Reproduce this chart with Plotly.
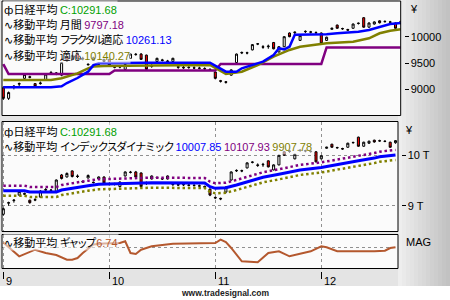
import plotly.graph_objects as go

W, H = 450, 300
def px(x): return x / W
def py(y): return 1 - y / H

# ---------------- data (bar index: 0 = Aug 31, 1 = Sep 1 ... 75 = last bar) ----------------
bar_idx = list(range(76))
opens = [9030, 8830, 9050, 9100, 9210, 9240, 9110, 9110, 9170, 9310,
         9300, 9270, 9610, 9570, 9690, 9590, 9480, 9550, 9465, 9530,
         9570, 9440, 9430, 9380, 9590, 9660, 9670, 9650, 9450, 9530,
         9560, 9540, 9530, 9430, 9420, 9420, 9410, 9405, 9395, 9380,
         9330, 9165, 9145, 9270, 9510, 9690, 9695, 9750, 9860, 9810,
         9810, 9890, 9710, 9810, 10070, 10075, 9930, 10095, 10085, 10080,
         10070, 9930, 10140, 10220, 10155, 10135, 10160, 10250, 10360, 10180,
         10240, 10300, 10290, 10280, 10260, 10250]
highs = [9060, 8960, 9080, 9130, 9300, 9260, 9120, 9150, 9310, 9350,
         9330, 9520, 9630, 9660, 9700, 9620, 9500, 9620, 9480, 9580,
         9580, 9460, 9455, 9480, 9680, 9690, 9690, 9660, 9480, 9600,
         9580, 9560, 9600, 9450, 9450, 9440, 9440, 9430, 9420, 9400,
         9340, 9180, 9160, 9380, 9680, 9720, 9715, 9860, 9880, 9840,
         9850, 9900, 9820, 10010, 10080, 10100, 10030, 10120, 10110, 10100,
         10080, 10000, 10170, 10230, 10170, 10150, 10250, 10270, 10370, 10270,
         10290, 10310, 10310, 10300, 10270, 10300]
lows = [8800, 8800, 9000, 9060, 9200, 9210, 9040, 9090, 9160, 9290,
        9270, 9250, 9520, 9560, 9560, 9550, 9450, 9540, 9440, 9520,
        9440, 9400, 9400, 9360, 9580, 9640, 9560, 9360, 9410, 9520,
        9530, 9510, 9520, 9390, 9390, 9390, 9385, 9380, 9370, 9350,
        9190, 9130, 9110, 9260, 9500, 9670, 9665, 9740, 9840, 9770,
        9770, 9760, 9700, 9800, 9990, 10050, 9920, 10070, 10060, 10050,
        9860, 9920, 10130, 10150, 10130, 10110, 10150, 10230, 10170, 10170,
        10230, 10250, 10270, 10260, 10150, 10230]
closes = [8830, 8940, 9060, 9110, 9280, 9230, 9060, 9120, 9290, 9320,
          9310, 9510, 9540, 9640, 9580, 9580, 9470, 9600, 9460, 9570,
          9450, 9420, 9425, 9470, 9670, 9665, 9570, 9380, 9440, 9590,
          9550, 9530, 9590, 9420, 9410, 9415, 9405, 9400, 9390, 9370,
          9210, 9155, 9135, 9370, 9670, 9700, 9690, 9850, 9865, 9800,
          9820, 9770, 9810, 10000, 10000, 10085, 10020, 10100, 10090, 10075,
          9870, 9990, 10160, 10160, 10150, 10125, 10240, 10255, 10180, 10260,
          10280, 10265, 10285, 10275, 10160, 10291.68]

# top panel moving averages
ma_month_x = [0, 1, 20, 21, 40, 41, 60, 61, 75]
ma_month_y = [9480, 9290, 9290, 9360, 9360, 9482, 9482, 9797.18, 9797.18]
ma_fractal_x = [0, 9, 11, 12, 14, 16, 17, 18, 27, 39, 42, 44, 45, 48, 49, 51, 52, 53, 54, 55, 61, 63, 67, 69, 71, 73, 75]
ma_fractal_y = [9040, 9040, 9060, 9121, 9216, 9336, 9460, 9495, 9507, 9507, 9336, 9336, 9400, 9495, 9526,
                9653, 9780, 9760, 9810, 10035, 10046, 10065, 10095, 10127, 10190, 10241, 10261.13]
ma_adapt_x = [0, 9, 11, 14, 16, 17, 19, 26, 28, 39, 40, 42, 45, 48, 51, 54, 56, 61, 66, 69, 71, 73, 75]
ma_adapt_y = [9178, 9178, 9211, 9305, 9400, 9435, 9444, 9444, 9453, 9463, 9406, 9292, 9336, 9463, 9620,
              9748, 9810, 9875, 9905, 9970, 10065, 10114, 10140.27]

# middle panel: index dynamic MA with bands
dyn_x = [1, 5, 6, 11, 12, 13, 15, 17, 19, 25, 29, 39, 40, 41, 43, 45, 48, 50, 53, 55, 57, 61, 65, 67, 68, 71, 72, 75]
dyn_mid = [9298, 9298, 9272, 9272, 9311, 9331, 9365, 9397, 9425, 9444, 9456, 9450, 9377, 9345, 9357, 9411,
           9496, 9563, 9623, 9670, 9710, 9760, 9840, 9881, 9890, 9945, 9972, 10007.85]
dyn_up = [9398, 9398, 9372, 9372, 9411, 9431, 9465, 9497, 9525, 9544, 9556, 9550, 9477, 9445, 9457, 9511,
          9596, 9663, 9723, 9770, 9810, 9860, 9940, 9981, 9990, 10045, 10072, 10107.93]
dyn_low = [9198, 9198, 9172, 9172, 9211, 9231, 9265, 9297, 9325, 9344, 9356, 9350, 9277, 9245, 9257, 9311,
           9396, 9463, 9523, 9570, 9610, 9660, 9740, 9781, 9790, 9845, 9872, 9907.78]

# bottom panel: MA gap
gap_x = [1, 4, 7, 9, 11, 13, 14, 15, 16, 18, 20, 23, 24, 25, 26, 27, 29, 31, 33, 41, 42, 43, 44, 46, 49,
         51, 53, 55, 57, 59, 61, 62, 64, 66, 68, 71, 73, 74, 75]
gap_y = [100, -176, -44, -110, -150, -244, -244, -210, -110, 60, 80, 90, 124, -110, -130, -44, 24, 56, 76,
         90, 156, 110, -10, -276, -296, -110, -76, -176, -130, -76, 24, 4, -76, -76, -90, -76, -64, -10, 6.74]

month_ticks = [1, 21, 41, 61]
month_labels = ["9", "10", "11", "12"]

# ---------------- figure ----------------
fig = go.Figure()

cs_style = dict(
    increasing=dict(line=dict(color="black", width=1), fillcolor="white"),
    decreasing=dict(line=dict(color="black", width=1), fillcolor="#ff0000"),
    whiskerwidth=0, showlegend=False, hoverinfo="skip",
)
fig.add_trace(go.Candlestick(x=bar_idx, open=opens, high=highs, low=lows, close=closes,
                             xaxis="x", yaxis="y", **cs_style))
fig.add_trace(go.Scatter(x=ma_month_x, y=ma_month_y, mode="lines", line=dict(color="#800080", width=2.5),
                         xaxis="x", yaxis="y", showlegend=False))
fig.add_trace(go.Scatter(x=ma_adapt_x, y=ma_adapt_y, mode="lines", line=dict(color="#808000", width=2.5),
                         xaxis="x", yaxis="y", showlegend=False))
fig.add_trace(go.Scatter(x=ma_fractal_x, y=ma_fractal_y, mode="lines", line=dict(color="#0000ff", width=2.5),
                         xaxis="x", yaxis="y", showlegend=False))

fig.add_trace(go.Candlestick(x=bar_idx, open=opens, high=highs, low=lows, close=closes,
                             xaxis="x2", yaxis="y2", **cs_style))
fig.add_trace(go.Scatter(x=dyn_x, y=dyn_up, mode="lines", line=dict(color="#800080", width=2.5, dash="2.5px,2.8px"),
                         xaxis="x2", yaxis="y2", showlegend=False))
fig.add_trace(go.Scatter(x=dyn_x, y=dyn_low, mode="lines", line=dict(color="#808000", width=2.5, dash="2.5px,2.8px"),
                         xaxis="x2", yaxis="y2", showlegend=False))
fig.add_trace(go.Scatter(x=dyn_x, y=dyn_mid, mode="lines", line=dict(color="#0000ff", width=3),
                         xaxis="x2", yaxis="y2", showlegend=False))

fig.add_trace(go.Scatter(x=gap_x, y=gap_y, mode="lines", line=dict(color="#b4582e", width=2),
                         xaxis="x3", yaxis="y3", showlegend=False))

tickfont = dict(family="Liberation Sans", size=11, color="black")
grid = dict(showgrid=True, gridcolor="#909090", griddash="dot", gridwidth=1)

fig.update_layout(
    width=W, height=H, autosize=False,
    margin=dict(l=0, r=0, t=0, b=0),
    paper_bgcolor="white", plot_bgcolor="rgba(0,0,0,0)",
    boxgap=0.45,
    xaxis=dict(domain=[px(2), px(400.7)], range=[-0.245, 74.98], anchor="y",
               showticklabels=False, ticks="", showgrid=False, zeroline=False, showline=False,
               rangeslider=dict(visible=False)),
    xaxis2=dict(domain=[px(2), px(398)], range=[0.755, 75.47], anchor="y2",
                tickvals=month_ticks, showticklabels=False, ticks="", zeroline=False, showline=False,
                rangeslider=dict(visible=False), **grid),
    xaxis3=dict(domain=[px(2), px(398)], range=[0.755, 75.47], anchor="free", position=py(270.5),
                tickvals=month_ticks, showticklabels=False, ticks="outside", ticklen=7, tickcolor="black",
                zeroline=False, showline=False, showgrid=False),
    xaxis4=dict(domain=[px(2), px(398)], range=[0.755, 75.47], anchor="y3", overlaying="x3",
                tickvals=month_ticks, showticklabels=False, ticks="", zeroline=False, showline=False, **grid),
    yaxis=dict(domain=[py(115.5), py(1)], range=[8505, 10677], anchor="free", position=px(403.5), side="right",
               tickvals=[9000, 9500, 10000], ticktext=["9000", "9500", "10000"],
               ticks="outside", ticklen=4, tickcolor="black", tickfont=tickfont,
               showgrid=False, zeroline=False, showline=False),
    yaxis2=dict(domain=[py(231.5), py(121.5)], range=[8488, 10671], anchor="free", position=px(400.5), side="right",
                tickvals=[9000, 10000], ticktext=["9 T", "10 T"],
                ticks="outside", ticklen=4, tickcolor="black", tickfont=tickfont,
                zeroline=False, showline=False, **grid),
    yaxis3=dict(domain=[py(268.5), py(234.5)], range=[-420, 260], anchor="x3", side="right",
                tickvals=[0], showticklabels=False, ticks="",
                zeroline=False, showline=False, **grid),
)
# invisible trace to activate the grid axis of the bottom panel
fig.add_trace(go.Scatter(x=[month_ticks[0]], y=[0], mode="markers", marker=dict(opacity=0),
                         xaxis="x4", yaxis="y3", showlegend=False, hoverinfo="skip"))

# ---------------- background / frames ----------------
shapes = []
shapes.append(dict(type="rect", xref="paper", yref="paper", x0=0, x1=1, y0=py(286), y1=1,
                   fillcolor="#e4e4e4", line=dict(width=0), layer="below"))
n = 13
for k in range(n):
    x0 = 398 + k * 4
    c = int(0xee - (0xee - 0xc2) * k / (n - 1))
    col = "#%02x%02x%02x" % (c, c, c)
    shapes.append(dict(type="rect", xref="paper", yref="paper", x0=px(x0), x1=px(x0 + 4.2), y0=py(286), y1=1,
                       fillcolor=col, line=dict(width=0), layer="below"))
panels = [(2, 1, 400.7, 115.5), (2, 121.5, 398, 231.5), (2, 234.5, 398, 268.5)]
for (x0, y0, x1, y1) in panels:
    shapes.append(dict(type="rect", xref="paper", yref="paper", x0=px(x0), x1=px(x1), y0=py(y1), y1=py(y0),
                       fillcolor="#fbfbfb", line=dict(width=0), layer="below"))
for (x0, y0, x1, y1) in panels:
    shapes.append(dict(type="rect", xref="paper", yref="paper", x0=px(x0), x1=px(x1), y0=py(y1), y1=py(y0),
                       fillcolor="rgba(0,0,0,0)", line=dict(width=1, color="black"), layer="above"))
fig.update_layout(shapes=shapes)

# ---------------- texts ----------------
JP = "Noto Sans CJK JP"
def num(t, color):
    return '<span style="font-family:Liberation Sans;font-size:11px;color:%s">%s</span>' % (color, t)
def kana(t, sp):
    return '<span style="letter-spacing:%spx">%s</span>' % (sp, t)
CANDLE = '<span style="font-family:DejaVu Sans;font-size:11px">ф</span>'
WAVE = '<span style="font-family:DejaVu Sans;font-size:11px">∿</span>'

legend_lines = [
    (9, CANDLE + "日経平均 " + num("C:10291.68", "#00a000")),
    (24, WAVE + "移動平均 月間 " + num("9797.18", "#800080")),
    (39.5, WAVE + "移動平均 " + kana("フラクタル", -2.6) + "適応 " + num("10261.13", "#0000ff")),
    (55, WAVE + "移動平均 適応 " + num("10140.27", "#808000")),
    (131, CANDLE + "日経平均 " + num("C:10291.68", "#00a000")),
    (146, WAVE + "移動平均 " + kana("インデックスダイナミック", -1.5) + " " + num("10007.85", "#0000ff") + " "
     + num("10107.93", "#800080") + " " + num("9907.78", "#808000")),
    (242, WAVE + "移動平均 " + kana("ギャップ", -2.5) + " " + num("6.74", "#b4582e")),
]
annos = []
for (y, t) in legend_lines:
    annos.append(dict(xref="paper", yref="paper", x=px(3), y=py(y), xanchor="left", yanchor="middle",
                      text=t, showarrow=False, font=dict(family=JP, size=11, color="black"),
                      bgcolor="rgba(252,252,252,0.55)", borderpad=0))
for tv, tl in zip(month_ticks, month_labels):
    annos.append(dict(xref="x3", yref="paper", x=tv, y=py(280.5), xanchor="left", yanchor="middle",
                      xshift=1, text=tl, showarrow=False, font=tickfont))
annos.append(dict(xref="paper", yref="paper", x=px(408), y=py(9), xanchor="left", yanchor="middle",
                  text="¥", showarrow=False, font=tickfont))
annos.append(dict(xref="paper", yref="paper", x=px(403), y=py(129.5), xanchor="left", yanchor="middle",
                  text="¥", showarrow=False, font=tickfont))
annos.append(dict(xref="paper", yref="paper", x=px(404), y=py(242), xanchor="left", yanchor="middle",
                  text="MAG", showarrow=False, font=tickfont))
annos.append(dict(xref="paper", yref="paper", x=px(225), y=py(293), xanchor="center", yanchor="middle",
                  text="<b>www.tradesignal.com</b>", showarrow=False,
                  font=dict(family="Liberation Sans", size=8.5, color="#222222")))
fig.update_layout(annotations=annos)

fig.write_html("out.html")
